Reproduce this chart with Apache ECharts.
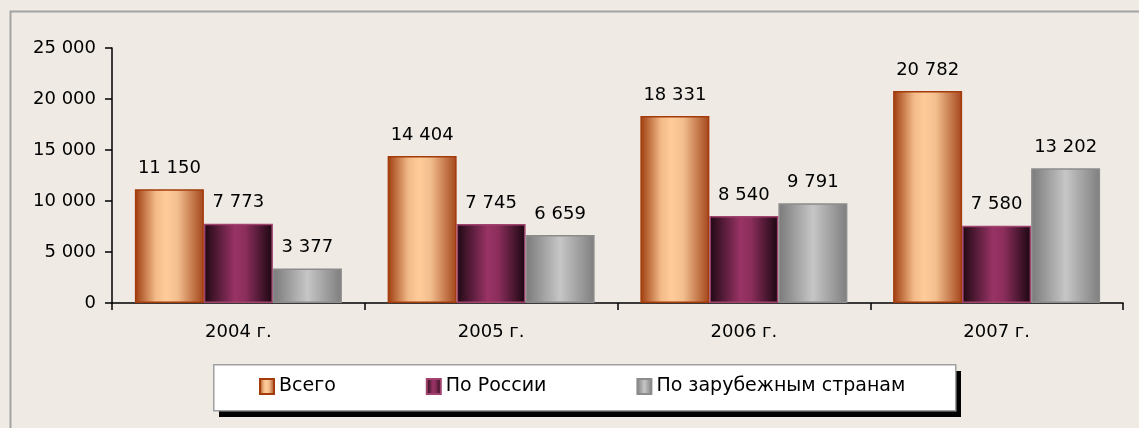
<!DOCTYPE html>
<html>
<head>
<meta charset="utf-8">
<script src="https://cdn.jsdelivr.net/npm/echarts@6/dist/echarts.min.js"></script>
<style>
  html, body { margin: 0; padding: 0; background: #EFEBE4; }
  #chart { width: 1139px; height: 428px; }
</style>
</head>
<body>
<div id="chart"></div>
<script>
// годы
var years = ['2004 г.', '2005 г.', '2006 г.', '2007 г.']
// значения
var total = [11150, 14404, 18331, 20782]
var russia = [7773, 7745, 8540, 7580]
var foreign = [3377, 6659, 9791, 13202]
var seriesNames = ['Всего', 'По России', 'По зарубежным странам']

var fmt = function (v) {
  return String(v).replace(/\B(?=(\d{3})+(?!\d))/g, ' ')
}

var grad = function (stops) {
  return new echarts.graphic.LinearGradient(0, 0, 1, 0, stops.map(function (s) {
    return { offset: s[0], color: s[1] }
  }))
}

var fontFamily = 'DejaVu Sans'

var makeSeries = function (name, data, color, border) {
  return {
    name: name,
    type: 'bar',
    data: data,
    barWidth: 69,
    barGap: '0%',
    itemStyle: {
      color: color,
      borderColor: border,
      borderWidth: 1.5
    },
    label: {
      show: true,
      position: 'top',
      distance: 12,
      color: '#000',
      fontSize: 18,
      fontFamily: fontFamily,
      formatter: function (p) { return fmt(p.value) }
    }
  }
}

var chart = echarts.init(document.getElementById('chart'))
var option = {
  backgroundColor: '#EFEBE4',
  animation: false,
  graphic: [
    {
      // рамка области диаграммы
      type: 'rect',
      left: 8,
      top: 9,
      z: 0,
      shape: { width: 1300, height: 600 },
      style: { fill: 'none', stroke: '#A3A3A3', lineWidth: 2 },
      silent: true
    },
    {
      // тень легенды
      type: 'rect',
      left: 219,
      top: 371,
      z: 1,
      shape: { width: 742, height: 46 },
      style: { fill: '#000' },
      silent: true
    },
    {
      // фон легенды
      type: 'rect',
      left: 213,
      top: 364,
      z: 2,
      shape: { width: 742, height: 46 },
      style: { fill: '#fff', stroke: '#A0A0A0', lineWidth: 1.5 },
      silent: true
    }
  ],
  grid: { left: 112, right: 16, top: 48, bottom: 125 },
  legend: {
    left: 213,
    top: 364,
    z: 10,
    padding: [13, 44, 13, 46],
    itemGap: 90,
    itemWidth: 14,
    itemHeight: 15,
    icon: 'rect',
    textStyle: { fontSize: 19, color: '#000', fontFamily: fontFamily },
    data: seriesNames
  },
  xAxis: {
    type: 'category',
    data: years,
    axisLine: { lineStyle: { color: '#000', width: 1.5 } },
    axisTick: { show: true, length: 7, lineStyle: { color: '#000', width: 1.5 } },
    axisLabel: { color: '#000', fontSize: 18, fontFamily: fontFamily, margin: 20 }
  },
  yAxis: {
    type: 'value',
    min: 0,
    max: 25000,
    interval: 5000,
    splitLine: { show: false },
    axisLine: { show: true, lineStyle: { color: '#000', width: 1.5 } },
    axisTick: { show: true, length: 7, lineStyle: { color: '#000', width: 1.5 } },
    axisLabel: { color: '#000', fontSize: 18, fontFamily: fontFamily, margin: 16, formatter: fmt }
  },
  series: [
    makeSeries(seriesNames[0], total,
      grad([[0, '#9E3C0E'], [0.3, '#F2BA88'], [0.45, '#FFCC99'], [0.62, '#F3BE8E'], [1, '#A3461B']]),
      '#A33B0A'),
    makeSeries(seriesNames[1], russia,
      grad([[0, '#1E0812'], [0.45, '#993366'], [0.6, '#8C2E5C'], [1, '#1A0610']]),
      '#A2426F'),
    makeSeries(seriesNames[2], foreign,
      grad([[0, '#7A7A7A'], [0.5, '#C6C6C6'], [1, '#7E7E7E']]),
      '#8C8C8C')
  ]
}
chart.setOption(option)
</script>
</body>
</html>
